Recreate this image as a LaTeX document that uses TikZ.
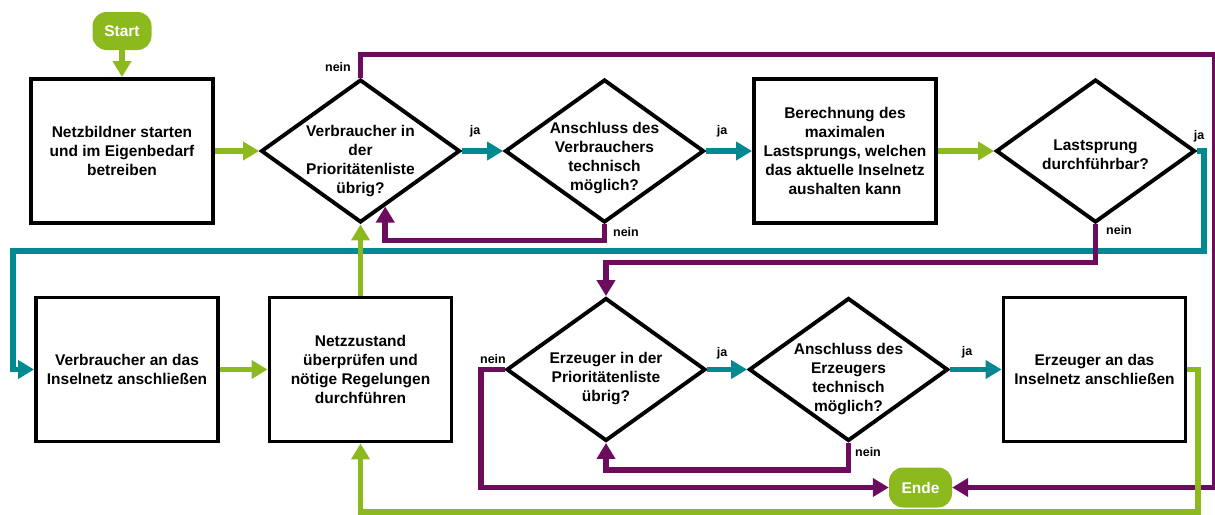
\documentclass[tikz,border=0pt]{standalone}
\usepackage{fontspec}
\setmainfont{Liberation Sans}
\usetikzlibrary{arrows.meta,shapes.geometric,calc}
\definecolor{flowgreen}{RGB}{140,186,30}
\definecolor{flowpurple}{RGB}{108,12,92}
\definecolor{flowteal}{RGB}{0,137,145}

\begin{document}
\begin{tikzpicture}[x=1pt,y=-1pt,
  boxtext/.style={font=\bfseries\fontsize{15.5}{19}\selectfont,align=center},
  stepbox/.style={draw=black,line width=3.9pt,minimum width=182pt,minimum height=144pt,
    inner sep=0pt,boxtext},
  decision/.style={draw=black,line width=3.9pt,diamond,minimum width=199pt,
    minimum height=143pt,inner sep=0pt},
  terminal/.style={fill=flowgreen,rounded corners=14pt,inner sep=0pt,
    text=white,font=\bfseries\fontsize{15.5}{19}\selectfont},
  answer/.style={font=\bfseries\fontsize{12.5}{14}\selectfont,inner sep=0pt},
  flow/.style={line width=5.5pt,-{Triangle[length=16pt,width=18pt]}},
  greenflow/.style={flow,draw=flowgreen},
  tealflow/.style={flow,draw=flowteal},
  purpleflow/.style={flow,draw=flowpurple},
]
\useasboundingbox (0,0) rectangle (1215,514);

% terminals
\node[terminal,minimum width=59pt,minimum height=38pt] (start) at (122,31) {Start};
\node[terminal,minimum width=63pt,minimum height=40pt] (ende) at (920.5,487.5) {Ende};

% process steps
\node[stepbox] (netz) at (122,151) {Netzbildner starten\\und im Eigenbedarf\\betreiben};
\node[stepbox] (calc) at (845,151) {Berechnung des\\maximalen\\Lastsprungs, welchen\\das aktuelle Inselnetz\\aushalten kann};
\node[stepbox] (vanschl) at (127,369.5) {Verbraucher an das\\Inselnetz anschließen};
\node[stepbox] (pruef) at (360.5,369.5) {Netzzustand\\überprüfen und\\nötige Regelungen\\durchführen};
\node[stepbox] (eanschl) at (1094.5,369.5) {Erzeuger an das\\Inselnetz anschließen};

% decisions
\node[decision] (vlist) at (360.5,151) {};
\node[decision] (vtech) at (604.5,151) {};
\node[decision] (sprung) at (1095.5,151) {};
\node[decision] (elist) at (606,369.5) {};
\node[decision] (etech) at (848.5,369.5) {};

\node[boxtext] (vlistt) at (360.5,161) {Verbraucher in\\der\\Prioritätenliste\\übrig?};
\node[boxtext] (vtecht) at (604.5,158) {Anschluss des\\Verbrauchers\\technisch\\möglich?};
\node[boxtext] (sprungt) at (1095.5,155) {Lastsprung\\durchführbar?};
\node[boxtext] (elistt) at (606,379) {Erzeuger in der\\Prioritätenliste\\übrig?};
\node[boxtext] (etecht) at (848.5,379.5) {Anschluss des\\Erzeugers\\technisch\\möglich?};

% answer labels
\node[answer] (ja1) at (475,131) {ja};
\node[answer] (ja2) at (722,131) {ja};
\node[answer] (ja3) at (1199,136) {ja};
\node[answer] (ja4) at (722,353) {ja};
\node[answer] (ja5) at (967,352) {ja};
\node[answer] (nein1) at (338,67) {nein};
\node[answer] (nein2) at (626,232) {nein};
\node[answer] (nein3) at (1119,230) {nein};
\node[answer] (nein4) at (493,359) {nein};
\node[answer] (nein5) at (868,452) {nein};

% routing corners
\coordinate (tealright) at (1204,251);
\coordinate (tealleft) at (13,251);
\coordinate (purpletop) at (1215,54.5);
\coordinate (purpleleft) at (481,487.5);
\coordinate (greencorner) at (1198,512);

% "ja" branches
\draw[tealflow] (vlist.east) -- (vtech.west);
\draw[tealflow] (vtech.east) -- (calc.west);
\draw[tealflow] (elist.east) -- (etech.west);
\draw[tealflow] (etech.east) -- (eanschl.west);
\draw[tealflow] (sprung.east) -| (tealright) -- (tealleft) |- (vanschl.west);

% "nein" branches
\draw[purpleflow] (vlist.north) |- (purpletop) |- (ende.east);
\draw[purpleflow] (vtech.south) -- ($(vtech.south)+(0,16)$) -| (vlist.-66);
\draw[purpleflow] (sprung.south) -- ($(sprung.south)+(0,38)$) -| (elist.north);
\draw[purpleflow] (etech.south) -- ($(etech.south)+(0,27)$) -| (elist.south);
\draw[purpleflow] (elist.west) -| (purpleleft) -- (ende.west);

% main sequence
\draw[greenflow] (start.south) -- (netz.north);
\draw[greenflow] (netz.east) -- (vlist.west);
\draw[greenflow] (calc.east) -- (sprung.west);
\draw[greenflow] (vanschl.east) -- (pruef.west);
\draw[greenflow] (pruef.north) -- (vlist.south);
\draw[greenflow] (eanschl.east) -| (greencorner) -| (pruef.south);
\end{tikzpicture}
\end{document}
